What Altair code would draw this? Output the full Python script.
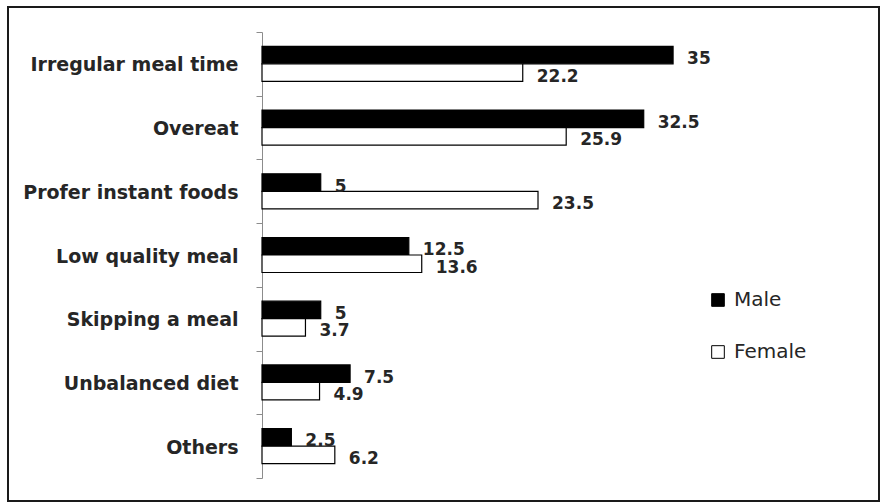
import altair as alt
import pandas as pd

# Causes of poor eating habits, percentage by sex
causes = [
    "Irregular meal time",
    "Overeat",
    "Profer instant foods",
    "Low quality meal",
    "Skipping a meal",
    "Unbalanced diet",
    "Others",
]
male = [35, 32.5, 5, 12.5, 5, 7.5, 2.5]
female = [22.2, 25.9, 23.5, 13.6, 3.7, 4.9, 6.2]
groups = ["Male", "Female"]

rows = []
for c, m, f in zip(causes, male, female):
    rows.append({"cause": c, "sex": "Male", "pct": m})
    rows.append({"cause": c, "sex": "Female", "pct": f})
df = pd.DataFrame(rows)

FONT = "DejaVu Sans"
TEXT = "#262626"

y_enc = alt.Y(
    "cause:N",
    sort=causes,
    scale=alt.Scale(paddingInner=0, paddingOuter=0),
    axis=alt.Axis(
        title=None,
        tickBand="extent",
        labelFont=FONT,
        labelFontSize=19,
        labelFontWeight="bold",
        labelColor=TEXT,
        labelPadding=18,
        labelLimit=400,
        labelOffset=1,
        tickSize=6,
        domainColor="#8c8c8c",
        tickColor="#8c8c8c",
        domainWidth=1,
        tickWidth=1,
    ),
)
yoff_enc = alt.YOffset(
    "sex:N", sort=groups, scale=alt.Scale(paddingInner=0, paddingOuter=0.82)
)
x_enc = alt.X("pct:Q", scale=alt.Scale(domain=[0, 51]), axis=None)

base = alt.Chart(df)

bars = base.mark_bar(stroke="black", strokeWidth=1.2).encode(
    x=x_enc,
    y=y_enc,
    yOffset=yoff_enc,
    color=alt.Color(
        "sex:N",
        sort=groups,
        scale=alt.Scale(domain=groups, range=["#000000", "#ffffff"]),
        legend=alt.Legend(
            title=None,
            orient="none",
            legendX=446,
            legendY=258,
            symbolType="square",
            symbolSize=160,
            symbolStrokeColor="black",
            symbolStrokeWidth=1,
            labelFont=FONT,
            labelFontSize=20,
            labelColor=TEXT,
            labelOffset=6,
            rowPadding=32,
        ),
    ),
)

labels = base.mark_text(
    align="left",
    baseline="middle",
    dx=14,
    dy=4,
    font=FONT,
    fontSize=17,
    fontWeight="bold",
    color=TEXT,
).encode(
    x=x_enc,
    y=y_enc,
    yOffset=yoff_enc,
    text=alt.Text("pct:Q", format="~g"),
)

# frame around the whole figure
frame = alt.Chart(alt.Data(values=[{"k": 1}])).mark_rect(
    fillOpacity=0, stroke="#1a1a1a", strokeWidth=2
).encode(
    x=alt.value(-254),
    x2=alt.value(617),
    y=alt.value(-25),
    y2=alt.value(469),
)

chart = (
    alt.layer(bars, labels, frame)
    .properties(
        width=599,
        height=446,
        padding={"left": 262, "top": 32, "right": 21, "bottom": 26},
        autosize=alt.AutoSizeParams(type="none"),
        background="white",
    )
    .configure_view(stroke=None)
)

chart.save("out.html", embed_options={"renderer": "svg", "actions": False})
